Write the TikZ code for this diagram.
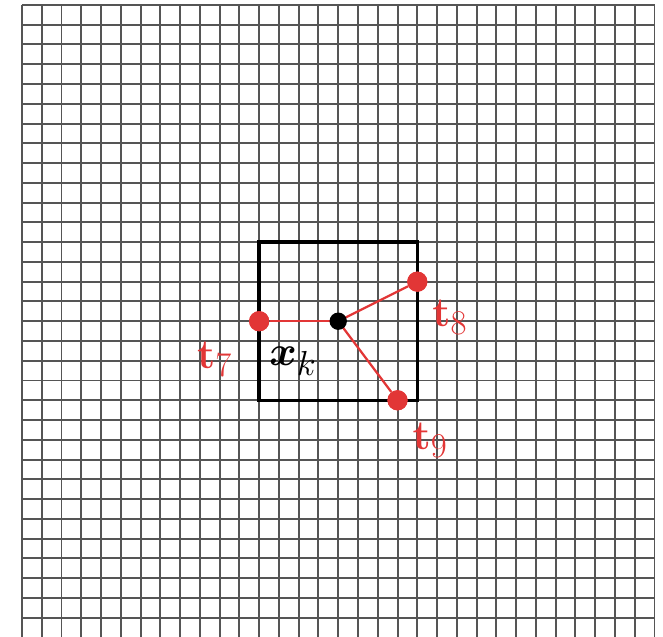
\RequirePackage{fix-cm}
\documentclass[tikz,border=0pt]{standalone}
\usepackage{amsmath,amssymb,bm}
\usepackage{tikz}
\usetikzlibrary{arrows.meta,positioning}
\DeclareMathSizes{30}{30}{25}{18}
\definecolor{MeshGray}{HTML}{555555}
\definecolor{SampleRed}{HTML}{E23636}

\begin{document}
\begin{tikzpicture}[x=0.5cm,y=0.5cm, mesh/.style={draw=MeshGray,line width=1.4pt}, cell/.style={draw=black,line width=2.4pt}, link/.style={draw=SampleRed,line width=1.6pt}, sample/.style={circle,fill=SampleRed,inner sep=0pt,minimum size=14.5pt}, query/.style={circle,fill=black,inner sep=0pt,minimum size=12.5pt}, lbl/.style={font=\fontsize{30}{36}\selectfont,inner sep=0pt,anchor=base west}]
\useasboundingbox (-1.11,0.03) rectangle (32.43,32.25);
% background grid
\draw[mesh,step=0.5cm] (0,0) grid (32,32);
\draw[cell] (12,12) rectangle (20,20);
% query point and its samples
\coordinate (xk) at (16,16);
\node[sample] (t7) at (12,16) {};
\node[sample] (t8) at (20,18) {};
\node[sample] (t9) at (19,12) {};
\draw[link] (xk) -- (t7);
\draw[link] (xk) -- (t8);
\draw[link] (xk) -- (t9);
\node[query] (q) at (xk) {};
\node[sample] at (t7) {};
\node[sample] at (t8) {};
\node[sample] at (t9) {};
\node[lbl,text=SampleRed] (lt7) at (8.85,13.6) {$\mathbf{t}_7$};
\node[lbl] (lxk) at (12.5,13.75) {$\bm{x}_k$};
\node[lbl,text=SampleRed] (lt8) at (20.75,15.75) {$\mathbf{t}_8$};
\node[lbl,text=SampleRed] (lt9) at (19.75,9.5) {$\mathbf{t}_9$};
\end{tikzpicture}
\end{document}
